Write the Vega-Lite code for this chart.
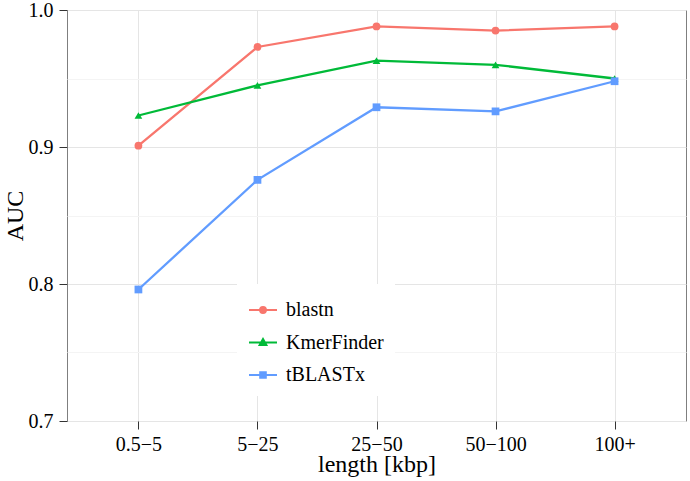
{
  "$schema": "https://vega.github.io/schema/vega-lite/v6.json",
  "width": 619,
  "height": 411,
  "autosize": "none",
  "padding": {"left": 67, "top": 10, "right": 4, "bottom": 60},
  "background": "white",
  "config": {
    "font": "Liberation Serif",
    "view": {"stroke": "#7f7f7f", "strokeWidth": 1},
    "axis": {
      "domain": false,
      "labelColor": "#000000",
      "titleColor": "#000000",
      "labelFont": "Liberation Serif",
      "titleFont": "Liberation Serif",
      "labelFontSize": 20,
      "titleFontSize": 24,
      "titleFontWeight": "normal",
      "tickColor": "#333333",
      "tickWidth": 1,
      "tickSize": 8,
      "labelPadding": 5,
      "gridColor": "#e5e5e5",
      "gridWidth": 1
    },
    "legend": {
      "title": null,
      "orient": "none",
      "legendX": 170,
      "legendY": 274,
      "fillColor": "white",
      "padding": 11,
      "symbolSize": 784,
      "symbolStrokeWidth": 2,
      "labelFontSize": 20,
      "labelFont": "Liberation Serif",
      "labelColor": "#000000",
      "labelOffset": 8,
      "rowPadding": 7.5
    }
  },
  "data": {
    "values": [
      {"length": "0.5−5", "method": "blastn", "AUC": 0.901},
      {"length": "5−25", "method": "blastn", "AUC": 0.973},
      {"length": "25−50", "method": "blastn", "AUC": 0.988},
      {"length": "50−100", "method": "blastn", "AUC": 0.985},
      {"length": "100+", "method": "blastn", "AUC": 0.988},
      {"length": "0.5−5", "method": "KmerFinder", "AUC": 0.923},
      {"length": "5−25", "method": "KmerFinder", "AUC": 0.945},
      {"length": "25−50", "method": "KmerFinder", "AUC": 0.963},
      {"length": "50−100", "method": "KmerFinder", "AUC": 0.960},
      {"length": "100+", "method": "KmerFinder", "AUC": 0.950},
      {"length": "0.5−5", "method": "tBLASTx", "AUC": 0.796},
      {"length": "5−25", "method": "tBLASTx", "AUC": 0.876},
      {"length": "25−50", "method": "tBLASTx", "AUC": 0.929},
      {"length": "50−100", "method": "tBLASTx", "AUC": 0.926},
      {"length": "100+", "method": "tBLASTx", "AUC": 0.948}
    ]
  },
  "encoding": {
    "x": {
      "field": "length",
      "type": "ordinal",
      "sort": ["0.5−5", "5−25", "25−50", "50−100", "100+"],
      "scale": {"type": "point", "padding": 0.6},
      "axis": {"title": "length [kbp]", "labelAngle": 0, "grid": true, "titlePadding": -2}
    },
    "y": {
      "field": "AUC",
      "type": "quantitative",
      "scale": {"domain": [0.7, 1.0], "nice": false, "zero": false},
      "axis": {
        "title": "AUC",
        "titlePadding": 1,
        "labelPadding": 6,
        "values": [0.7, 0.75, 0.8, 0.85, 0.9, 0.95, 1.0],
        "labelExpr": "round(datum.value*100) % 10 == 0 ? format(datum.value, '.1f') : ''",
        "gridColor": {"condition": {"test": "round(datum.value*100) % 10 != 0", "value": "#f4f4f4"}, "value": "#e5e5e5"},
        "tickOpacity": {"condition": {"test": "round(datum.value*100) % 10 != 0", "value": 0}, "value": 1}
      }
    }
  },
  "resolve": {"scale": {"color": "independent", "shape": "independent"}},
  "layer": [
    {
      "mark": {"type": "line", "strokeWidth": 2.3},
      "encoding": {
        "color": {
          "field": "method", "type": "nominal", "legend": null,
          "scale": {"domain": ["blastn", "KmerFinder", "tBLASTx"], "range": ["#F8766D", "#00BA38", "#619CFF"]}
        }
      }
    },
    {
      "mark": {"type": "point", "filled": true, "size": 60, "opacity": 1},
      "encoding": {
        "color": {
          "field": "method", "type": "nominal", "legend": null,
          "scale": {"domain": ["blastn", "KmerFinder", "tBLASTx"], "range": ["#F8766D", "#00BA38", "#619CFF"]}
        },
        "shape": {
          "field": "method", "type": "nominal", "legend": null,
          "scale": {"domain": ["blastn", "KmerFinder", "tBLASTx"], "range": ["circle", "triangle-up", "square"]}
        }
      }
    },
    {
      "transform": [{"filter": "false"}],
      "mark": {"type": "point", "filled": false, "opacity": 1, "strokeWidth": 2},
      "encoding": {
        "color": {
          "field": "method", "type": "nominal",
          "scale": {"domain": ["blastn", "KmerFinder", "tBLASTx"], "range": ["#F8766D", "#00BA38", "#619CFF"]}
        },
        "shape": {
          "field": "method", "type": "nominal",
          "scale": {
            "domain": ["blastn", "KmerFinder", "tBLASTx"],
            "range": [
              "M-1,0L1,0M-0.21,0A0.21,0.21 0 1,0 0.21,0A0.21,0.21 0 1,0 -0.21,0ZM-0.07,0A0.07,0.07 0 1,0 0.07,0A0.07,0.07 0 1,0 -0.07,0Z",
              "M-1,0L1,0M0,-0.25L0.24,0.17L-0.24,0.17ZM0,-0.09L0.09,0.07L-0.09,0.07Z",
              "M-1,0L1,0M-0.2,-0.2L0.2,-0.2L0.2,0.2L-0.2,0.2ZM-0.07,-0.07L0.07,-0.07L0.07,0.07L-0.07,0.07Z"
            ]
          }
        }
      }
    }
  ]
}
